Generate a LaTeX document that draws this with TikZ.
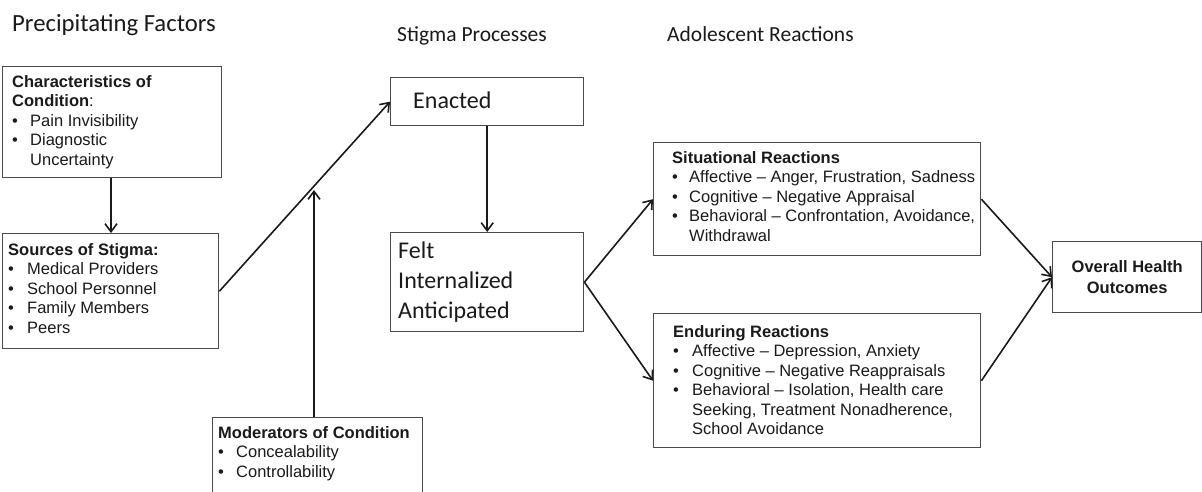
\documentclass[tikz,border=0pt]{standalone}
\usepackage{fontspec}
\setmainfont{Liberation Sans}
\newfontfamily\calfont{Carlito}
\usetikzlibrary{arrows.meta}
\definecolor{boxgray}{HTML}{4A4A4A}
\definecolor{inkc}{HTML}{1A1A1A}
\newcommand{\bi}[1][18pt]{\makebox[#1][l]{\textbullet}}
\begin{document}
\begin{tikzpicture}[x=1pt,y=-1pt,
  box/.style={draw=boxgray, line width=1.4pt, inner sep=0pt, anchor=north west, fill=white},
  txt/.style={inner sep=0pt, anchor=base west, text=inkc, font=\fontsize{16.5}{19.5}\selectfont},
  ctxt/.style={inner sep=0pt, anchor=base west, text=inkc, font=\calfont\fontsize{24}{30}\selectfont},
  head/.style={inner sep=0pt, anchor=base west, text=inkc, font=\calfont\fontsize{21.5}{26}\selectfont},
  arr/.style={draw=inkc, line width=1.6pt, -{Straight Barb[length=8pt,width=12pt,line width=1.6pt]}},
  ln/.style={draw=inkc, line width=1.6pt}]
\clip (0,0) rectangle (1202,491);
\fill[white] (0,0) rectangle (1202,491);

% headers
\node[head, font=\calfont\fontsize{24.7}{29}\selectfont] (h1) at (12,31) {Precipitating Factors};
\node[head] (h2) at (397,41) {Stigma Processes};
\node[head] (h3) at (667,41) {Adolescent Reactions};

% boxes
\node[box, minimum width=219, minimum height=111] (char) at (2,66) {};
\node[box, minimum width=216, minimum height=115] (src) at (2,233) {};
\node[box, minimum width=210, minimum height=90] (mod) at (212,417) {};
\node[box, minimum width=193, minimum height=48] (ena) at (390,77) {};
\node[box, minimum width=193, minimum height=99] (felt) at (390,232) {};
\node[box, minimum width=327, minimum height=113] (sit) at (653,142) {};
\node[box, minimum width=327, minimum height=134] (end) at (653,313) {};
\node[box, minimum width=149, minimum height=71, align=center, text=inkc,
      font=\bfseries\fontsize{16.5}{20.7}\selectfont] (out) at (1052,241) {Overall Health\\Outcomes};

% box texts
\node[txt] (charT) at ([shift={(10,21)}]char.north west) {\begin{tabular}[t]{@{}l@{}l@{}}
\multicolumn{2}{@{}l@{}}{\textbf{Characteristics of}}\\
\multicolumn{2}{@{}l@{}}{\textbf{Condition}:}\\
\bi & Pain Invisibility\\
\bi & Diagnostic\\
 & Uncertainty
\end{tabular}};
\node[txt] (srcT) at ([shift={(6,22)}]src.north west) {\begin{tabular}[t]{@{}l@{}l@{}}
\multicolumn{2}{@{}l@{}}{\textbf{Sources of Stigma:}}\\
\bi[19pt] & Medical Providers\\
\bi[19pt] & School Personnel\\
\bi[19pt] & Family Members\\
\bi[19pt] & Peers
\end{tabular}};
\node[txt] (modT) at ([shift={(6,21)}]mod.north west) {\begin{tabular}[t]{@{}l@{}l@{}}
\multicolumn{2}{@{}l@{}}{\textbf{Moderators of Condition}}\\
\bi & Concealability\\
\bi & Controllability
\end{tabular}};
\node[ctxt] (enaT) at ([shift={(23,31)}]ena.north west) {Enacted};
\node[ctxt] (feltT) at ([shift={(8,26)}]felt.north west) {\begin{tabular}[t]{@{}l@{}}
Felt\\ Internalized\\ Anticipated
\end{tabular}};
\node[txt] (sitT) at ([shift={(19,21)}]sit.north west) {\begin{tabular}[t]{@{}l@{}l@{}}
\multicolumn{2}{@{}l@{}}{\textbf{Situational Reactions}}\\
\bi[17pt] & Affective -- Anger, Frustration, Sadness\\
\bi[17pt] & Cognitive -- Negative Appraisal\\
\bi[17pt] & Behavioral -- Confrontation, Avoidance,\\
 & Withdrawal
\end{tabular}};
\node[txt] (endT) at ([shift={(20,24)}]end.north west) {\begin{tabular}[t]{@{}l@{}l@{}}
\multicolumn{2}{@{}l@{}}{\textbf{Enduring Reactions}}\\
\bi[19pt] & Affective -- Depression, Anxiety\\
\bi[19pt] & Cognitive -- Negative Reappraisals\\
\bi[19pt] & Behavioral -- Isolation, Health care\\
 & Seeking, Treatment Nonadherence,\\
 & School Avoidance
\end{tabular}};

% connectors
\coordinate (modTip) at (314,190);
\draw[arr] (char.south -| 111,0) -- (src.north -| 111,0);
\draw[arr] (src.east) -- (ena.west);
\draw[arr] (mod.north -| modTip) -- (modTip);
\draw[arr] (ena.south) -- (felt.north);
\draw[arr] (felt.east) -- (sit.west);
\draw[arr] (felt.east) -- (end.west);
\draw[arr] (sit.east) -- (out.west);
\draw[arr] (end.east) -- (out.west);
\end{tikzpicture}
\end{document}
